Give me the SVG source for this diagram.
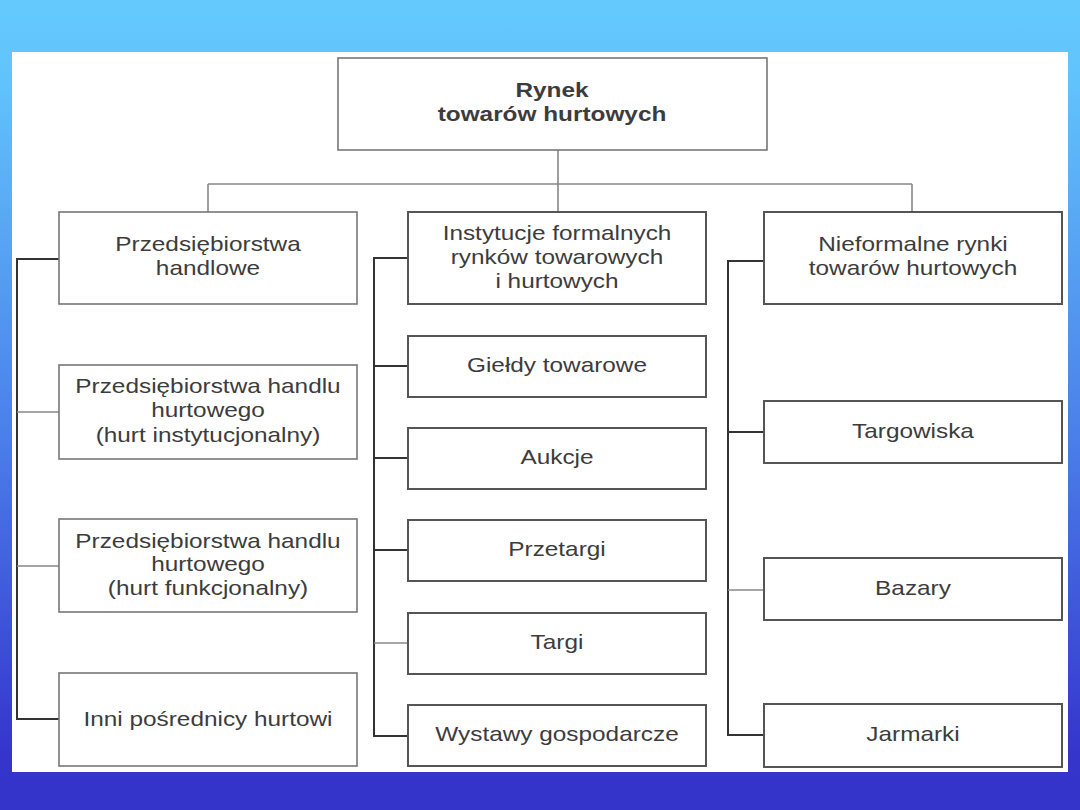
<svg xmlns="http://www.w3.org/2000/svg" width="1080" height="810" viewBox="0 0 1080 810">
<defs>
<linearGradient id="bg" x1="0" y1="0" x2="0" y2="1">
<stop offset="0" stop-color="#64cafd"/>
<stop offset="0.1" stop-color="#61c3fc"/>
<stop offset="0.55" stop-color="#4a7de9"/>
<stop offset="0.93" stop-color="#3535cc"/>
<stop offset="1" stop-color="#3434cb"/>
</linearGradient>
</defs>
<style>
.box{fill:#fff;stroke:#555;stroke-width:2}
.lbox{fill:#fff;stroke:#777;stroke-width:1.6}
.t{font-family:"Liberation Sans",Arial,sans-serif;font-size:21px;fill:#3c3c3c;text-anchor:middle}
.b{font-weight:bold}
.c{fill:none;stroke:#333;stroke-width:2}
.cl{fill:none;stroke:#888;stroke-width:1.6}
</style>
<rect x="0" y="0" width="1080" height="810" fill="url(#bg)"/>
<rect x="12" y="52" width="1056" height="720" fill="#fff"/>

<g id="connectors">
<path class="cl" d="M558 150 V212 M208 184 H912 M208 184 V212 M912 184 V212"/>
<path class="c" d="M59 259 H17 V719 H59"/>
<path class="cl" d="M17 412 H59 M17 566 H59"/>
<path class="c" d="M408 258 H374 V736 H408 M374 366 H408 M374 458 H408 M374 550 H408"/>
<path class="cl" d="M374 643 H408"/>
<path class="c" d="M764 261 H728 V735 H764 M728 432 H764"/>
<path class="cl" d="M728 590 H764"/>
</g>

<g id="root">
<rect class="lbox" x="338" y="58" width="429" height="92"/>
<g transform="translate(552 0) scale(1.16 1)"><text class="t b" x="0" y="97">Rynek</text><text class="t b" x="0" y="121">towarów hurtowych</text></g>
</g>

<g id="przedsiebiorstwa-handlowe">
<rect class="lbox" x="59" y="212" width="298" height="92"/>
<g transform="translate(208 0) scale(1.16 1)"><text class="t" x="0" y="251">Przedsiębiorstwa</text><text class="t" x="0" y="275">handlowe</text></g>
</g>
<g id="hurt-instytucjonalny">
<rect class="lbox" x="59" y="365" width="298" height="94"/>
<g transform="translate(208 0) scale(1.16 1)"><text class="t" x="0" y="393">Przedsiębiorstwa handlu</text><text class="t" x="0" y="417">hurtowego</text><text class="t" x="0" y="442">(hurt instytucjonalny)</text></g>
</g>
<g id="hurt-funkcjonalny">
<rect class="lbox" x="59" y="519" width="298" height="93"/>
<g transform="translate(208 0) scale(1.16 1)"><text class="t" x="0" y="548">Przedsiębiorstwa handlu</text><text class="t" x="0" y="571">hurtowego</text><text class="t" x="0" y="595">(hurt funkcjonalny)</text></g>
</g>
<g id="inni-posrednicy">
<rect class="lbox" x="59" y="673" width="298" height="93"/>
<g transform="translate(208 0) scale(1.16 1)"><text class="t" x="0" y="726">Inni pośrednicy hurtowi</text></g>
</g>

<g id="instytucje">
<rect class="box" x="408" y="212" width="298" height="92"/>
<g transform="translate(557 0) scale(1.16 1)"><text class="t" x="0" y="240">Instytucje formalnych</text><text class="t" x="0" y="264">rynków towarowych</text><text class="t" x="0" y="288">i hurtowych</text></g>
</g>
<g id="gieldy">
<rect class="box" x="408" y="336" width="298" height="61"/>
<g transform="translate(557 0) scale(1.16 1)"><text class="t" x="0" y="372">Giełdy towarowe</text></g>
</g>
<g id="aukcje">
<rect class="box" x="408" y="428" width="298" height="61"/>
<g transform="translate(557 0) scale(1.16 1)"><text class="t" x="0" y="464">Aukcje</text></g>
</g>
<g id="przetargi">
<rect class="box" x="408" y="520" width="298" height="61"/>
<g transform="translate(557 0) scale(1.16 1)"><text class="t" x="0" y="556">Przetargi</text></g>
</g>
<g id="targi">
<rect class="box" x="408" y="613" width="298" height="61"/>
<g transform="translate(557 0) scale(1.16 1)"><text class="t" x="0" y="649">Targi</text></g>
</g>
<g id="wystawy">
<rect class="box" x="408" y="705" width="298" height="61"/>
<g transform="translate(557 0) scale(1.16 1)"><text class="t" x="0" y="741">Wystawy gospodarcze</text></g>
</g>

<g id="nieformalne">
<rect class="box" x="764" y="212" width="298" height="92"/>
<g transform="translate(913 0) scale(1.16 1)"><text class="t" x="0" y="251">Nieformalne rynki</text><text class="t" x="0" y="275">towarów hurtowych</text></g>
</g>
<g id="targowiska">
<rect class="box" x="764" y="401" width="298" height="62"/>
<g transform="translate(913 0) scale(1.16 1)"><text class="t" x="0" y="438">Targowiska</text></g>
</g>
<g id="bazary">
<rect class="box" x="764" y="558" width="298" height="62"/>
<g transform="translate(913 0) scale(1.16 1)"><text class="t" x="0" y="595">Bazary</text></g>
</g>
<g id="jarmarki">
<rect class="box" x="764" y="704" width="298" height="63"/>
<g transform="translate(913 0) scale(1.16 1)"><text class="t" x="0" y="741">Jarmarki</text></g>
</g>
</svg>
